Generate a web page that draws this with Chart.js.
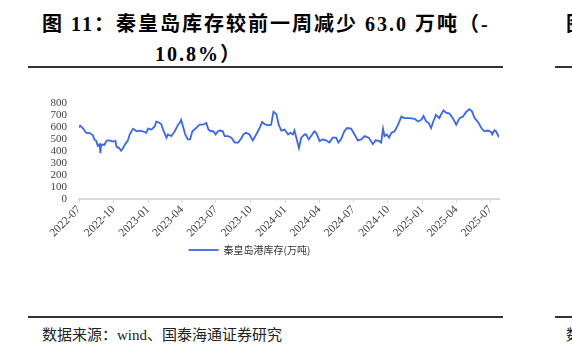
<!DOCTYPE html>
<html>
<head>
<meta charset="utf-8">
<script src="https://cdn.jsdelivr.net/npm/chart.js@4.4.1/dist/chart.umd.min.js"></script>
<style>
  html, body { margin: 0; padding: 0; background: #fff; }
  body { width: 572px; height: 354px; position: relative; overflow: hidden; }
  .title { position: absolute; font-family: "Liberation Serif", "Noto Sans CJK SC", serif; font-weight: bold;
           font-size: 20px; color: #000; white-space: nowrap; letter-spacing: 2px; }
  .rule { position: absolute; height: 2px; background: #333; }
  .src { position: absolute; font-family: "Liberation Serif", "Noto Sans CJK SC", serif; font-size: 15px;
         color: #222; white-space: nowrap; }
  #box { position: absolute; left: 0; top: 85px; width: 510px; height: 180px; }
</style>
</head>
<body>
<div class="title" style="left:42px; top:8px;">图 11：秦皇岛库存较前一周减少 63.0 万吨（-</div>
<div class="title" style="left:155px; top:38px;">10.8%）</div>
<div class="title" style="left:566px; top:8px;">图 12</div>
<div class="rule" style="left:28px; top:66px; width:475px;"></div>
<div class="rule" style="left:555px; top:66px; width:17px;"></div>
<div id="box"><canvas id="c"></canvas></div>
<div class="rule" style="left:28px; top:316px; width:475px;"></div>
<div class="rule" style="left:555px; top:316px; width:17px;"></div>
<div class="src" style="left:42px; top:323px;">数据来源：wind、国泰海通证券研究</div>
<div class="src" style="left:566px; top:323px;">数据来源</div>

<script>
const seriesName = '秦皇岛港库存(万吨)';
const dates = [
  '2022-07-01','2022-07-04','2022-07-11','2022-07-20','2022-07-29','2022-08-07','2022-08-11','2022-08-16',
  '2022-08-20','2022-08-25','2022-08-27','2022-08-29','2022-09-07','2022-09-11','2022-09-15','2022-09-20',
  '2022-09-29','2022-10-06','2022-10-09','2022-10-16','2022-10-21','2022-10-25','2022-11-02','2022-11-08',
  '2022-11-13','2022-11-22','2022-11-26','2022-12-01','2022-12-09','2022-12-18','2022-12-27','2023-01-01',
  '2023-01-10','2023-01-19','2023-01-23','2023-02-01','2023-02-05','2023-02-10','2023-02-19','2023-02-23',
  '2023-03-04','2023-03-13','2023-03-22','2023-03-26','2023-03-30','2023-04-04','2023-04-10','2023-04-17',
  '2023-04-23','2023-04-29','2023-05-09','2023-05-18','2023-05-27','2023-06-05','2023-06-11','2023-06-18',
  '2023-06-24','2023-06-30','2023-07-06','2023-07-12','2023-07-19','2023-07-24','2023-08-02','2023-08-11',
  '2023-08-20','2023-08-29','2023-09-06','2023-09-12','2023-09-19','2023-09-28','2023-10-07','2023-10-16',
  '2023-10-25','2023-11-01','2023-11-07','2023-11-16','2023-11-25','2023-12-01','2023-12-09','2023-12-15',
  '2023-12-22','2023-12-31','2024-01-09','2024-01-15','2024-01-22','2024-01-26','2024-01-31','2024-02-07',
  '2024-02-13','2024-02-22','2024-02-26','2024-03-04','2024-03-10','2024-03-19','2024-03-24','2024-04-02',
  '2024-04-11','2024-04-19','2024-04-28','2024-05-07','2024-05-16','2024-05-22','2024-05-29','2024-06-07',
  '2024-06-14','2024-06-25','2024-07-04','2024-07-13','2024-07-22','2024-07-31','2024-08-11','2024-08-22',
  '2024-08-29','2024-09-07','2024-09-13','2024-09-18','2024-09-22','2024-09-28','2024-10-04','2024-10-10',
  '2024-10-19','2024-10-28','2024-11-06','2024-11-14','2024-11-28','2024-12-11','2024-12-20','2024-12-29',
  '2025-01-04','2025-01-11','2025-01-18','2025-01-24','2025-01-30','2025-02-06','2025-02-15','2025-02-19',
  '2025-02-26','2025-03-05','2025-03-14','2025-03-23','2025-04-01','2025-04-10','2025-04-19','2025-04-28',
  '2025-05-06','2025-05-13','2025-05-20','2025-05-29','2025-06-07','2025-06-15','2025-06-24','2025-07-03',
  '2025-07-06','2025-07-12','2025-07-16','2025-07-24'
];
const stock = [
  600, 615, 595, 555, 555, 535, 500, 487,
  446, 460, 384, 455, 455, 482, 492, 492,
  482, 487, 438, 427, 405, 419, 465, 487,
  541, 590, 582, 568, 574, 568, 555, 590,
  582, 610, 650, 637, 629, 582, 514, 541,
  527, 568, 623, 637, 664, 610, 541, 500,
  500, 568, 595, 623, 623, 637, 582, 568,
  568, 541, 568, 574, 568, 527, 527, 514,
  473, 473, 508, 541, 555, 541, 492, 541,
  595, 645, 629, 618, 623, 732, 710, 623,
  574, 582, 541, 555, 541, 574, 514, 427,
  514, 541, 541, 500, 527, 568, 555, 487,
  500, 492, 473, 514, 514, 473, 500, 568,
  595, 590, 541, 492, 500, 527, 514, 460,
  492, 487, 473, 590, 527, 541, 514, 555,
  568, 623, 691, 678, 678, 672, 650, 664,
  697, 650, 637, 595, 650, 705, 678, 705,
  743, 724, 716, 678, 623, 678, 691, 732,
  754, 735, 678, 645, 595, 568, 574, 563,
  541, 577, 568, 517
];
const tickLabels = ['2022-07','2022-10','2023-01','2023-04','2023-07','2023-10','2024-01',
                    '2024-04','2024-07','2024-10','2025-01','2025-04','2025-07'];
const yTicks = [0, 100, 200, 300, 400, 500, 600, 700, 800];

const start = Date.UTC(2022, 6, 1);
function dayOf(s) {
  const p = s.split('-').map(Number);
  return (Date.UTC(p[0], p[1] - 1, p[2] || 1) - start) / 86400000;
}
const tickDays = tickLabels.map(dayOf);
const points = dates.map((d, i) => ({ x: dayOf(d), y: stock[i] }));

const serif = '"Liberation Serif", "Times New Roman", serif';
const ctx = document.getElementById('c').getContext('2d');
let chart = new Chart(ctx, {
  type: 'line',
  data: {
    datasets: [{
      label: seriesName,
      data: points,
      borderColor: '#3a66f2',
      backgroundColor: '#3a66f2',
      borderWidth: 1.8,
      pointRadius: 0,
      pointStyle: 'line',
      tension: 0
    }]
  },
  options: {
    responsive: true,
    maintainAspectRatio: false,
    animation: false,
    layout: { padding: { top: 14, right: 11, left: 0, bottom: 0 } },
    scales: {
      x: {
        type: 'linear',
        min: 0,
        max: dayOf('2025-07-24'),
        afterFit: s => { s.height = 38; },
        afterBuildTicks: s => { s.ticks = tickDays.map(v => ({ value: v })); },
        grid: { drawOnChartArea: false, drawTicks: true, tickLength: 4, color: '#d9d9d9', lineWidth: 1 },
        border: { color: '#d9d9d9', width: 2 },
        ticks: {
          minRotation: 45,
          maxRotation: 45,
          autoSkip: false,
          padding: 0,
          color: '#404040',
          font: { family: serif, size: 11.5 },
          callback: v => tickLabels[tickDays.indexOf(v)]
        }
      },
      y: {
        min: 0,
        max: 800,
        afterFit: s => { s.width = 79; },
        afterBuildTicks: s => { s.ticks = yTicks.map(v => ({ value: v })); },
        grid: { display: false, drawTicks: false },
        border: { display: false },
        ticks: {
          autoSkip: false,
          padding: 12,
          color: '#404040',
          font: { family: serif, size: 11 }
        }
      }
    },
    plugins: {
      legend: {
        position: 'bottom',
        labels: {
          usePointStyle: true,
          pointStyle: 'line',
          pointStyleWidth: 30,
          padding: 8,
          color: '#333',
          font: { family: '"Noto Sans CJK SC", sans-serif', size: 10 }
        }
      },
      tooltip: { enabled: false }
    }
  }
});
</script>
</body>
</html>
